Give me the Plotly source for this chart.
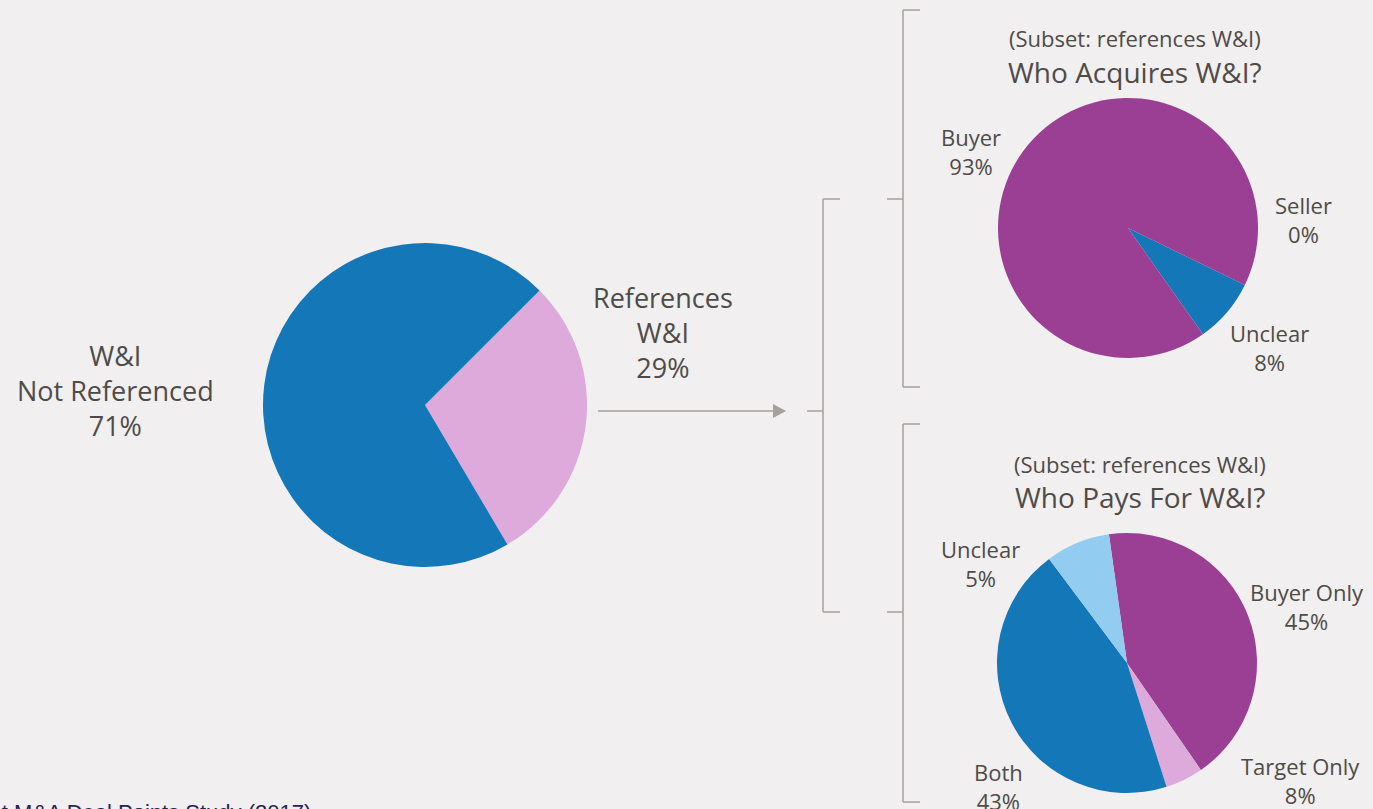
import plotly.graph_objects as go

W, H = 1373, 809
BG = "#F1EFEF"
TXT = "#4F4B49"
LINE = "#A3A09D"

# Main pie
main_labels = ["References W&I", "W&I Not Referenced"]
main_values = [29, 71]
main_colors = ["#DDAADB", "#1377B8"]

# Who acquires W&I
acq_labels = ["Unclear", "Buyer", "Seller"]
acq_values = [8, 92, 0]          # drawn shares
acq_text = ["8%", "93%", "0%"]   # printed labels
acq_colors = ["#1377B8", "#9B3F94", "#92CCF0"]

# Who pays for W&I
pay_labels = ["Buyer Only", "Target Only", "Both", "Unclear"]
pay_values = [42.6, 4.7, 44.7, 8.0]   # drawn shares
pay_text = ["45%", "8%", "43%", "5%"]  # printed labels
pay_colors = ["#9B3F94", "#DDAADB", "#1377B8", "#92CCF0"]


def dom(cx, cy, r):
    return dict(x=[(cx - r) / W, (cx + r) / W], y=[1 - (cy + r) / H, 1 - (cy - r) / H])


fig = go.Figure()
fig.add_trace(go.Pie(labels=main_labels, values=main_values, sort=False, direction="clockwise",
                     rotation=45, marker=dict(colors=main_colors, line=dict(width=0)),
                     textinfo="none", domain=dom(425, 405, 162), showlegend=False))
fig.add_trace(go.Pie(labels=acq_labels, values=acq_values, sort=False, direction="clockwise",
                     rotation=116, marker=dict(colors=acq_colors, line=dict(width=0)),
                     textinfo="none", domain=dom(1128, 228, 130), showlegend=False))
fig.add_trace(go.Pie(labels=pay_labels, values=pay_values, sort=False, direction="clockwise",
                     rotation=-8, marker=dict(colors=pay_colors, line=dict(width=0)),
                     textinfo="none", domain=dom(1127, 663, 130), showlegend=False))

# overlay axes in pixel units for annotations/connectors
fig.add_trace(go.Scatter(x=[0, W], y=[0, H], mode="markers", marker=dict(opacity=0),
                         hoverinfo="skip", showlegend=False))

FONT = "Open Sans, Noto Sans, sans-serif"
ann = []


def label(x, y, text, size=22, color=TXT):
    ann.append(dict(x=x, y=y, text=text, showarrow=False, xref="x", yref="y",
                    font=dict(family=FONT, size=size, color=color), align="center",
                    xanchor="center", yanchor="middle"))


label(115, 390, "W&I<br>Not Referenced<br>71%", size=27)
label(663, 332, "References<br>W&I<br>29%", size=27)

label(1135, 38, "(Subset: references W&I)", size=22)
label(1135, 72, "Who Acquires W&I?", size=28)
label(971, 151, "Buyer<br>" + acq_text[1])
label(1303, 219, "Seller<br>" + acq_text[2])
label(1269, 347, "Unclear<br>" + acq_text[0])

label(1140, 464, "(Subset: references W&I)", size=22)
label(1140, 497, "Who Pays For W&I?", size=28)
label(980, 563, "Unclear<br>" + pay_text[3])
label(1307, 606, "Buyer Only<br>" + pay_text[0])
label(1300, 780, "Target Only<br>" + pay_text[1])
label(998, 786, "Both<br>" + pay_text[2])

ann.append(dict(x=313, y=804, yshift=-8, text="Source: ABA Private Target M&A Deal Points Study (2017)",
                showarrow=False, xref="x", yref="y", xanchor="right", yanchor="middle",
                font=dict(family="Arial, Liberation Sans, sans-serif", size=22, color="#1F2456")))

shapes = []


def seg(x0, y0, x1, y1):
    shapes.append(dict(type="line", xref="x", yref="y", x0=x0, y0=y0, x1=x1, y1=y1,
                       line=dict(color=LINE, width=1.5)))


# arrow
seg(598, 411, 774, 411)
shapes.append(dict(type="path", xref="x", yref="y", path="M 773 404 L 786 411 L 773 418 Z",
                   fillcolor=LINE, line=dict(width=0)))
# left bracket
seg(807, 411, 823, 411)
seg(823, 199, 823, 612)
seg(823, 199, 840, 199)
seg(823, 612, 840, 612)
# right ticks
seg(887, 199, 903, 199)
seg(887, 612, 903, 612)
# upper bracket
seg(903, 10, 903, 387)
seg(903, 10, 920, 10)
seg(903, 387, 920, 387)
# lower bracket
seg(903, 424, 903, 802)
seg(903, 424, 920, 424)
seg(903, 802, 920, 802)

fig.update_layout(
    width=W, height=H, autosize=False,
    margin=dict(l=0, r=0, t=0, b=0),
    paper_bgcolor=BG, plot_bgcolor=BG,
    xaxis=dict(range=[0, W], visible=False, fixedrange=True),
    yaxis=dict(range=[H, 0], visible=False, fixedrange=True),
    annotations=ann, shapes=shapes,
)

fig.write_html("out.html", config={"displayModeBar": False},
               post_script="document.body.style.margin='0';document.body.style.overflow='hidden';"
                           "document.body.style.background='" + BG + "';")
